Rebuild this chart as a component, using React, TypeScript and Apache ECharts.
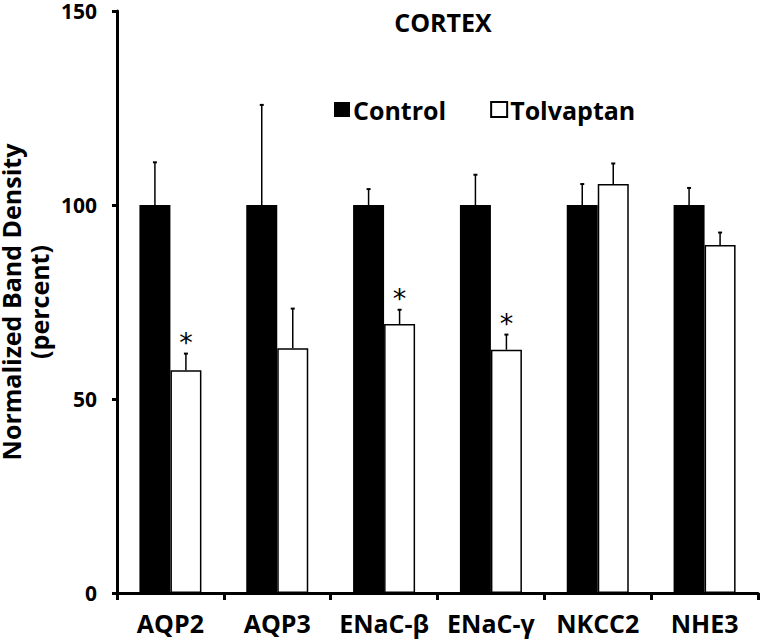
import React, { useEffect, useRef } from "react";
import * as echarts from "echarts";

const categories = ["AQP2", "AQP3", "ENaC-β", "ENaC-γ", "NKCC2", "NHE3"];
const controlValues = [100, 100, 100, 100, 100, 100];
const controlErrors = [11, 25.8, 4.1, 7.8, 5.4, 4.4];
const tolvaptanValues = [57.4, 63.1, 69.3, 62.7, 105.4, 89.7];
const tolvaptanErrors = [4.3, 10.2, 3.7, 3.9, 5.3, 3.2];
const tolvaptanSignificance = ["*", "", "*", "*", "", ""];
const yTicks = [0, 50, 100, 150];

const FONT = "'Open Sans', 'Noto Sans', sans-serif";
const BAR_W = 31;

function errorSeries(name: string, values: number[], errs: number[], marks: string[], offset: number) {
  return {
    type: "custom",
    name: name + " error",
    z: 5,
    data: values.map((v, i) => [i, v, errs[i], marks[i] ? 1 : 0]),
    encode: { x: 0, y: 1 },
    renderItem: (params: any, api: any) => {
      const i = api.value(0);
      const v = api.value(1);
      const e = api.value(2);
      const sig = api.value(3);
      const base = api.coord([i, v]);
      const top = api.coord([i, v + e]);
      const x = base[0] + offset;
      const children: any[] = [
        {
          type: "line",
          shape: { x1: x, y1: base[1], x2: x, y2: top[1] },
          style: { stroke: "#000", lineWidth: 1.5 },
        },
        {
          type: "line",
          shape: { x1: x - 2, y1: top[1], x2: x + 2, y2: top[1] },
          style: { stroke: "#000", lineWidth: 2 },
        },
      ];
      if (sig) {
        children.push({
          type: "text",
          x: x,
          y: top[1] - 11,
          style: {
            text: marks[i],
            fontSize: 27,
            fontFamily: "'DejaVu Sans', sans-serif",
            fill: "#000",
            align: "center",
            verticalAlign: "middle",
          },
        });
      }
      return { type: "group", children };
    },
  };
}

export default function App() {
  const ref = useRef<HTMLDivElement>(null);
  useEffect(() => {
    if (!ref.current) return;
    const chart = echarts.init(ref.current, null, { renderer: "svg" });
    chart.setOption({
      animation: false,
      backgroundColor: "#fff",
      title: {
        text: "CORTEX",
        left: 438,
        top: 4,
        textAlign: "center",
        textStyle: { fontFamily: FONT, fontWeight: "bold", fontSize: 25, color: "#000" },
      },
      legend: {
        data: ["Control", "Tolvaptan"],
        left: 329,
        top: 92,
        itemWidth: 16,
        itemHeight: 15,
        itemGap: 44,
        icon: "rect",
        textStyle: { fontFamily: FONT, fontWeight: "bold", fontSize: 25, color: "#000", padding: [0, 0, 0, -2] },
      },
      grid: { left: 117, right: 2, top: 11, bottom: 48, containLabel: false, outerBoundsMode: "none" },
      xAxis: {
        type: "category",
        data: categories,
        axisLine: { lineStyle: { color: "#000", width: 3 } },
        axisTick: { show: true, length: 7, lineStyle: { color: "#000", width: 3 } },
        axisLabel: { fontFamily: FONT, fontWeight: "bold", fontSize: 25, color: "#000", margin: 17, interval: 0 },
      },
      yAxis: {
        type: "value",
        min: yTicks[0],
        max: yTicks[yTicks.length - 1],
        interval: 50,
        name: "Normalized Band Density\n(percent)",
        nameLocation: "middle",
        nameGap: 64,
        nameMoveOverlap: false,
        nameTextStyle: { fontFamily: FONT, fontWeight: "bold", fontSize: 25, color: "#000", lineHeight: 28 },
        axisLine: { show: true, lineStyle: { color: "#000", width: 3 } },
        axisTick: { show: true, length: 5, lineStyle: { color: "#000", width: 3 } },
        splitLine: { show: false },
        axisLabel: { fontFamily: FONT, fontWeight: "bold", fontSize: 21, lineHeight: 18, color: "#000", margin: 20 },
      },
      series: [
        {
          type: "bar",
          name: "Control",
          data: controlValues,
          barWidth: BAR_W,
          barGap: "0%",
          itemStyle: { color: "#000" },
        },
        {
          type: "bar",
          name: "Tolvaptan",
          data: tolvaptanValues,
          barWidth: BAR_W,
          barGap: "0%",
          itemStyle: { color: "#fff", borderColor: "#000", borderWidth: 1.5 },
        },
        errorSeries("Control", controlValues, controlErrors, ["", "", "", "", "", ""], -BAR_W / 2),
        errorSeries("Tolvaptan", tolvaptanValues, tolvaptanErrors, tolvaptanSignificance, BAR_W / 2),
      ],
    });
    return () => chart.dispose();
  }, []);
  return <div ref={ref} style={{ width: 760, height: 641, position: "absolute", left: 0, top: 0 }} />;
}
